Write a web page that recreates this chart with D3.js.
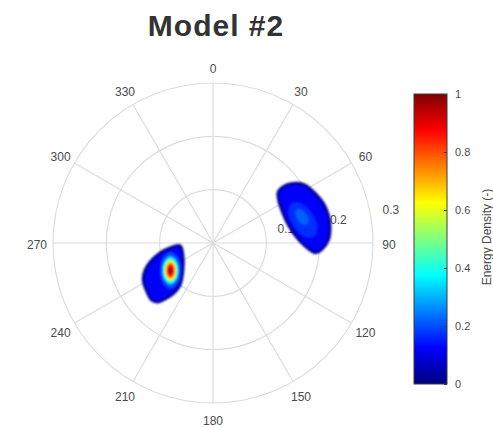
<!DOCTYPE html>
<html>
<head>
<meta charset="utf-8">
<script src="https://cdn.jsdelivr.net/npm/d3@7"></script>
<style>
  body { margin: 0; background: #ffffff; }
  svg { display: block; }
</style>
</head>
<body>
<svg id="chart" width="493" height="428"></svg>
<script>
// ---- chart content -------------------------------------------------------
const chartTitle = "Model #2";
const angleTicks = [0, 30, 60, 90, 120, 150, 180, 210, 240, 270, 300, 330];
const radialTicks = [0.1, 0.2, 0.3];
const radialMax = 0.3;
const radialLabelAngle = 80;
const colorTicks = [0, 0.2, 0.4, 0.6, 0.8, 1];
const colorLabel = "Energy Density (-)";

// Lobe near 75 deg: outline [bearing deg, radius], body / rim levels, inner contours
const lobeEastOutline = [
  [51.9, 0.1557], [51.8, 0.1759], [54.5, 0.1928], [57.8, 0.2039], [64.0, 0.2128],
  [70.2, 0.2198], [76.4, 0.2225], [82.1, 0.2215], [88.5, 0.2163], [93.3, 0.2042],
  [95.4, 0.1921], [94.1, 0.1824], [88.7, 0.1630], [77.4, 0.1460], [62.8, 0.1434],
  [55.6, 0.1484]
];
const lobeEastRim = 0.02;
const lobeEastBody = 0.12;
const lobeEastLevels = [0.17, 0.22];
const lobeEastContours = [
  [[86.5, 0.1892], [81.7, 0.1973], [73.8, 0.1939], [66.3, 0.1823],
   [63.3, 0.1665], [67.9, 0.1535], [78.0, 0.1547], [85.7, 0.1711]],
  [[78.9, 0.1792], [76.7, 0.1838], [72.9, 0.1829], [69.4, 0.1774],
   [68.2, 0.1700], [70.4, 0.1645], [74.6, 0.1649], [78.2, 0.1713]]
];

// Lobe near 237 deg
const lobeWestOutline = [
  [265.0, 0.062], [263.4, 0.081], [259.3, 0.101], [253.2, 0.123], [248.3, 0.137],
  [242.1, 0.148], [233.4, 0.154], [227.0, 0.157], [223.0, 0.151], [219.9, 0.134],
  [217.8, 0.116], [218.2, 0.100], [228.0, 0.076], [248.2, 0.061]
];
const lobeWestRim = 0.02;
const lobeWestBody = 0.12;
const lobeWestLevels = [0.2, 0.35, 0.5, 0.63, 0.76, 0.88, 0.94];
const lobeWestContours = [
  [[229.8, 0.0798], [221.4, 0.1005], [223.0, 0.1167], [230.9, 0.1197],
   [242.4, 0.1111], [253.4, 0.0970], [257.4, 0.0817], [247.4, 0.0720]],
  [[231.4, 0.0827], [224.6, 0.0984], [225.7, 0.1114], [232.2, 0.1143],
   [241.4, 0.1078], [249.9, 0.0962], [252.4, 0.0836], [244.5, 0.0766]],
  [[232.6, 0.0849], [226.8, 0.0975], [227.5, 0.1082], [232.9, 0.1107],
   [240.7, 0.1054], [247.7, 0.0955], [249.4, 0.0852], [242.9, 0.0798]],
  [[233.4, 0.0864], [228.5, 0.0967], [229.0, 0.1057], [233.6, 0.1081],
   [240.2, 0.1037], [245.9, 0.0953], [247.1, 0.0865], [241.7, 0.0822]],
  [[234.1, 0.0880], [229.9, 0.0964], [230.1, 0.1038], [234.0, 0.1058],
   [239.7, 0.1021], [244.5, 0.0949], [245.4, 0.0877], [241.0, 0.0843]],
  [[234.8, 0.0895], [231.3, 0.0962], [231.3, 0.1021], [234.5, 0.1036],
   [239.1, 0.1005], [243.0, 0.0946], [243.7, 0.0889], [240.2, 0.0865]],
  [[235.8, 0.0918], [233.9, 0.0954], [233.9, 0.0986], [235.7, 0.0997],
   [238.3, 0.0981], [240.3, 0.0948], [240.6, 0.0915], [238.7, 0.0902]]
];

// ---- layout ---------------------------------------------------------------
const cx = 213, cy = 243, plotRadius = 160;
const gridColor = "#dcdcdc";
const textColor = "#4a4a4a";

const svg = d3.select("#chart");
svg.append("rect").attr("width", 493).attr("height", 428).attr("fill", "#ffffff");

const rad = d => d * Math.PI / 180;
const rScale = d3.scaleLinear().domain([0, radialMax]).range([0, plotRadius]);

// jet colormap
const jet = d3.scaleLinear()
  .domain([0, 0.125, 0.375, 0.625, 0.875, 1])
  .range(["#00007f", "#0000ff", "#00ffff", "#ffff00", "#ff0000", "#7f0000"])
  .clamp(true);

// title
svg.append("text")
  .attr("x", 216).attr("y", 36)
  .attr("text-anchor", "middle")
  .attr("font-family", "Liberation Sans, Arial, sans-serif")
  .attr("font-weight", "bold")
  .attr("font-size", 30)
  .attr("letter-spacing", 1)
  .attr("fill", "#333333")
  .text(chartTitle);

const polar = svg.append("g").attr("transform", `translate(${cx},${cy})`);

// grid rings and spokes
polar.selectAll("circle.ring").data(radialTicks).join("circle")
  .attr("class", "ring")
  .attr("r", d => rScale(d))
  .attr("fill", "none")
  .attr("stroke", gridColor)
  .attr("stroke-width", 1.2);

polar.selectAll("line.spoke").data(angleTicks).join("line")
  .attr("class", "spoke")
  .attr("x1", 0).attr("y1", 0)
  .attr("x2", d => rScale(radialMax) * Math.sin(rad(d)))
  .attr("y2", d => -rScale(radialMax) * Math.cos(rad(d)))
  .attr("stroke", gridColor)
  .attr("stroke-width", 1.2);

// angle labels
const labelRadius = rScale(radialMax) + 16;
polar.selectAll("text.angle").data(angleTicks).join("text")
  .attr("class", "angle")
  .attr("x", d => labelRadius * Math.sin(rad(d)))
  .attr("y", d => -labelRadius * Math.cos(rad(d)) + 1.5)
  .attr("dy", "0.35em")
  .attr("text-anchor", "middle")
  .attr("font-family", "Liberation Sans, Arial, sans-serif")
  .attr("font-size", 12)
  .attr("fill", textColor)
  .text(d => d);

// radial labels
polar.selectAll("text.radial").data(radialTicks).join("text")
  .attr("class", "radial")
  .attr("x", d => rScale(d) * Math.sin(rad(radialLabelAngle)) + 12)
  .attr("y", d => -rScale(d) * Math.cos(rad(radialLabelAngle)) - 5)
  .attr("dy", "0.35em")
  .attr("text-anchor", "start")
  .attr("font-family", "Liberation Sans, Arial, sans-serif")
  .attr("font-size", 12)
  .attr("fill", textColor)
  .text(d => d);

// density lobes
const defs = svg.append("defs");
defs.append("filter").attr("id", "soften")
  .attr("x", "-20%").attr("y", "-20%").attr("width", "140%").attr("height", "140%")
  .append("feGaussianBlur").attr("stdDeviation", 1.1);

const contourLine = d3.lineRadial()
  .angle(d => rad(d[0]))
  .radius(d => rScale(d[1]))
  .curve(d3.curveCatmullRomClosed.alpha(0.5));

function drawLobe(outline, rim, body, levels, contours) {
  const lobe = polar.append("g").attr("filter", "url(#soften)");
  lobe.append("path")
    .attr("d", contourLine(outline))
    .attr("fill", jet(body))
    .attr("stroke", jet(rim))
    .attr("stroke-width", 3)
    .attr("stroke-linejoin", "round");
  lobe.selectAll("path.level").data(levels).join("path")
    .attr("class", "level")
    .attr("d", (d, i) => contourLine(contours[i]))
    .attr("fill", d => jet(d));
}

drawLobe(lobeEastOutline, lobeEastRim, lobeEastBody, lobeEastLevels, lobeEastContours);
drawLobe(lobeWestOutline, lobeWestRim, lobeWestBody, lobeWestLevels, lobeWestContours);

// colorbar
const barX = 414, barW = 33, barTop = 94, barBottom = 384;
const cbScale = d3.scaleLinear().domain([0, 1]).range([barBottom, barTop]);

const grad = defs.append("linearGradient").attr("id", "jetGradient")
  .attr("x1", 0).attr("y1", 1).attr("x2", 0).attr("y2", 0);
grad.selectAll("stop").data(jet.domain()).join("stop")
  .attr("offset", d => d)
  .attr("stop-color", d => jet(d));

svg.append("rect")
  .attr("x", barX).attr("y", barTop)
  .attr("width", barW).attr("height", barBottom - barTop)
  .attr("fill", "url(#jetGradient)")
  .attr("stroke", "#3a3a3a")
  .attr("stroke-width", 1);

const cbAxis = svg.append("g")
  .attr("transform", `translate(${barX + barW},0)`)
  .call(d3.axisRight(cbScale).tickValues(colorTicks).tickSize(-3).tickPadding(8)
    .tickFormat(d => String(d)));
cbAxis.select(".domain").remove();
cbAxis.selectAll(".tick line").attr("stroke", "#3a3a3a");
cbAxis.selectAll(".tick text")
  .attr("font-family", "Liberation Sans, Arial, sans-serif")
  .attr("font-size", 11)
  .attr("fill", textColor);

svg.append("text")
  .attr("transform", `translate(487,237) rotate(-90)`)
  .attr("text-anchor", "middle")
  .attr("dy", "0.35em")
  .attr("font-family", "Liberation Sans, Arial, sans-serif")
  .attr("font-size", 12)
  .attr("fill", textColor)
  .text(colorLabel);
</script>
</body>
</html>
